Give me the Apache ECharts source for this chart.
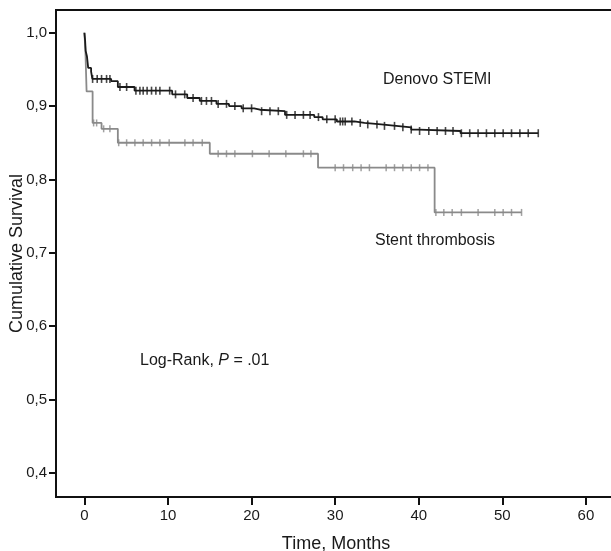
<!DOCTYPE html>
<html>
<head>
<meta charset="utf-8">
<script src="https://cdn.jsdelivr.net/npm/echarts@6/dist/echarts.min.js"></script>
<style>html,body{margin:0;padding:0;background:#fff}#c{width:611px;height:551px}</style>
</head>
<body>
<div id="c"></div>
<script>
// X axis tick values (months) and Y axis tick values (survival)
const xTicks = [0, 10, 20, 30, 40, 50, 60];
const yTicks = [0.4, 0.5, 0.6, 0.7, 0.8, 0.9, 1.0];

// Denovo STEMI: step times and survival after each step
const stemiTimes = [0, 0.08, 0.15, 0.3, 0.45, 0.8, 0.95, 3.2, 4.0, 6.0, 10.5, 12.3, 13.8, 15.8, 17.3, 18.8, 20.3, 21.0, 24.0, 27.5, 28.5, 30.2, 32.3, 33.5, 35.5, 37.3, 39.1, 40.0, 45.0, 54.3];
const stemiSurv  = [1.0, 0.99, 0.975, 0.968, 0.952, 0.947, 0.937, 0.934, 0.926, 0.921, 0.916, 0.911, 0.907, 0.903, 0.900, 0.897, 0.895, 0.893, 0.888, 0.885, 0.882, 0.879, 0.877, 0.875, 0.873, 0.871, 0.868, 0.866, 0.863, 0.863];
// Denovo STEMI censored times
const stemiCensor = [0.98, 1.53, 2.05, 2.65, 3.05, 4.25, 5.05, 6.16, 6.64, 7.03, 7.5, 8.03, 8.55, 9.03, 10.2, 10.9, 12.0, 13.0, 14.0, 14.6, 15.2, 16.0, 17.0, 18.0, 19.0, 20.0, 21.2, 22.2, 23.2, 24.2, 25.2, 26.2, 27.0, 28.0, 29.0, 30.0, 30.6, 30.9, 31.2, 32.0, 33.0, 33.9, 35.0, 35.9, 37.1, 38.1, 39.1, 40.1, 41.2, 42.2, 43.2, 44.1, 45.1, 46.1, 47.1, 48.1, 49.1, 50.1, 51.1, 52.1, 53.1, 54.3];

// Stent thrombosis: step times and survival after each step
const stentTimes = [0, 0.12, 0.26, 0.98, 2.05, 4.0, 15.0, 27.95, 41.9, 52.3];
const stentSurv  = [1.0, 0.975, 0.92, 0.877, 0.869, 0.850, 0.835, 0.816, 0.755, 0.755];
// Stent thrombosis censored times
const stentCensor = [1.1, 1.46, 2.3, 3.05, 4.1, 5.05, 6.04, 7.03, 8.04, 9.03, 10.14, 12.02, 13.0, 14.1, 16.0, 17.0, 18.0, 20.1, 22.1, 24.1, 26.2, 27.1, 30.0, 31.0, 32.1, 33.1, 34.1, 36.1, 37.1, 38.1, 39.1, 40.1, 41.1, 42.05, 43.0, 44.0, 45.1, 47.1, 49.1, 50.1, 51.1, 52.3];

function levelAt(T, S, t) {
  let v = S[0];
  for (let i = 0; i < T.length; i++) if (T[i] <= t) v = S[i];
  return v;
}
const FONT = '"Liberation Sans", Arial, Helvetica, sans-serif';
const chart = echarts.init(document.getElementById('c'), null, {renderer: 'canvas'});
chart.setOption({
  animation: false,
  backgroundColor: '#fff',
  grid: {left: 56, top: 10, right: -5, bottom: 54, show: true, borderColor: '#111', borderWidth: 2,
    backgroundColor: 'transparent', containLabel: false, outerBoundsMode: 'none'},
  xAxis: {
    type: 'value', min: -3.4, max: 63.6,
    name: 'Time, Months', nameLocation: 'middle', nameGap: 38, nameMoveOverlap: false,
    nameTextStyle: {fontFamily: FONT, fontSize: 18, color: '#1a1a1a'},
    axisLine: {show: true, onZero: false, lineStyle: {color: '#111', width: 2}},
    axisTick: {show: true, length: 8, lineStyle: {color: '#111', width: 2}, customValues: xTicks},
    axisLabel: {fontFamily: FONT, fontSize: 15, color: '#1a1a1a', margin: 11, customValues: xTicks},
    splitLine: {show: false}
  },
  yAxis: {
    type: 'value', min: 0.367, max: 1.031,
    name: 'Cumulative Survival', nameLocation: 'middle', nameGap: 30, nameRotate: 90, nameMoveOverlap: false,
    nameTextStyle: {fontFamily: FONT, fontSize: 18, color: '#1a1a1a'},
    axisLine: {show: true, onZero: false, lineStyle: {color: '#111', width: 2}},
    axisTick: {show: true, length: 7, lineStyle: {color: '#111', width: 2}, customValues: yTicks},
    axisLabel: {fontFamily: FONT, fontSize: 15, color: '#1a1a1a', margin: 9, customValues: yTicks,
      formatter: v => v.toFixed(1).replace('.', ',')},
    splitLine: {show: false}
  },
  graphic: [
    {type: 'text', left: 383, top: 72, style: {text: 'Denovo STEMI', font: '16px ' + FONT, fill: '#1a1a1a'}},
    {type: 'text', left: 375, top: 233, style: {text: 'Stent thrombosis', font: '16px ' + FONT, fill: '#1a1a1a'}},
    {type: 'text', left: 140, top: 353, style: {text: '{a|Log-Rank, }{b|P}{a| = .01}', font: '16px ' + FONT, fill: '#1a1a1a',
      rich: {a: {fontFamily: FONT, fontSize: 16, fill: '#1a1a1a'}, b: {fontFamily: FONT, fontSize: 16, fontStyle: 'italic', fill: '#1a1a1a'}}}}
  ],
  series: [
    {type: 'line', step: 'end', showSymbol: false, z: 2,
      data: stentTimes.map((t, i) => [t, stentSurv[i]]),
      lineStyle: {color: '#8a8a8a', width: 1.8}},
    {type: 'scatter', symbol: 'rect', symbolSize: [1.5, 7], z: 2,
      itemStyle: {color: '#8a8a8a'},
      data: stentCensor.map(t => [t, levelAt(stentTimes, stentSurv, t)])},
    {type: 'line', step: 'end', showSymbol: false, z: 3,
      data: stemiTimes.map((t, i) => [t, stemiSurv[i]]),
      lineStyle: {color: '#1a1a1a', width: 1.8}},
    {type: 'scatter', symbol: 'rect', symbolSize: [1.6, 8], z: 3,
      itemStyle: {color: '#1a1a1a'},
      data: stemiCensor.map(t => [t, levelAt(stemiTimes, stemiSurv, t)])}
  ]
});
</script>
</body>
</html>
